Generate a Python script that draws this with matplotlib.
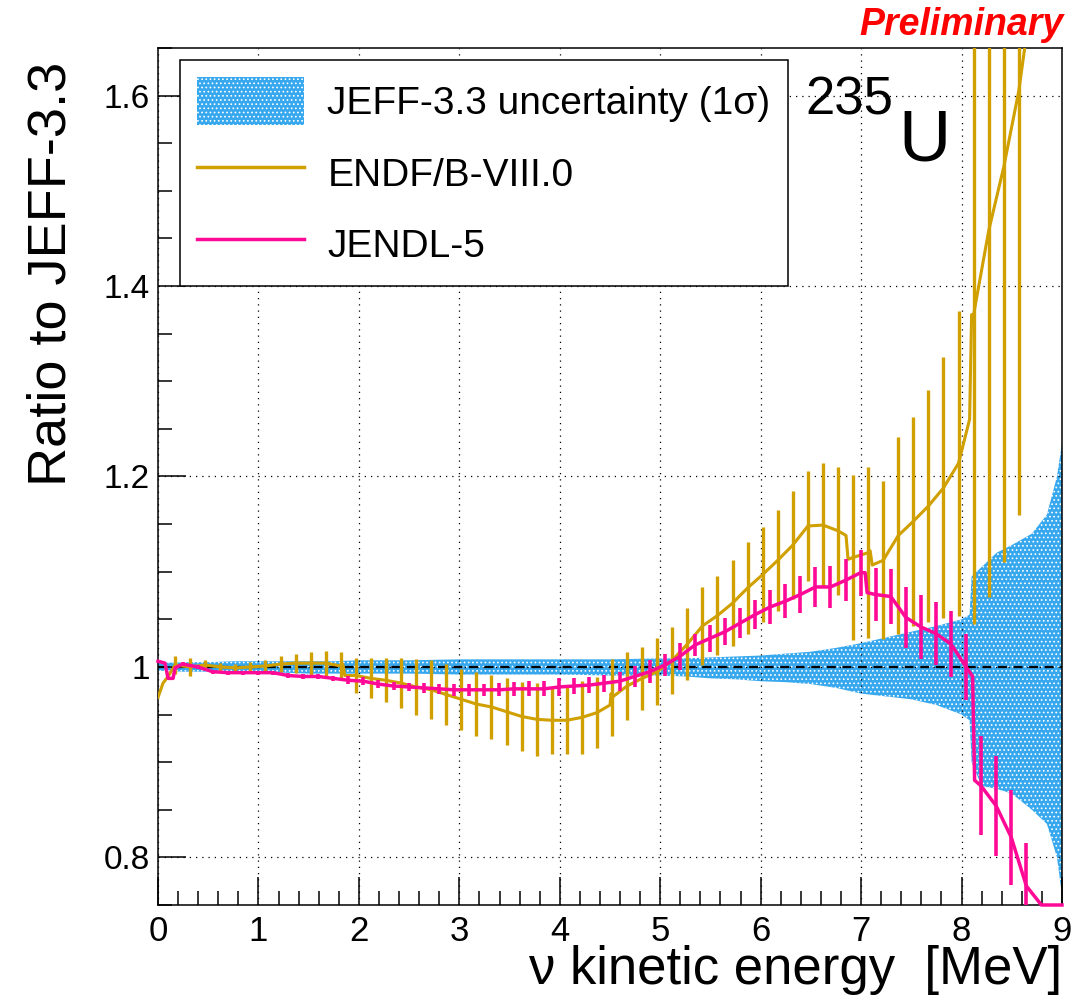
import numpy as np
import matplotlib as mpl
import matplotlib.pyplot as plt
from matplotlib.ticker import MultipleLocator, FuncFormatter
from matplotlib.patches import Patch
from matplotlib.lines import Line2D

### ROOT-like look ###
mpl.rc('font', family=['Liberation Sans', 'DejaVu Sans'])
mpl.rc('hatch', linewidth=0.7)

gold = '#D09F00'
pink = '#FF0A96'
blue = '#38A8EE'

# ENDF/B-VIII.0 / JEFF-3.3 ratio (error bars at bin centres)
endf_e = np.round(0.17 + 0.15 * np.arange(57), 3)
endf_val = [1.002, 1.000, 1.002, 1.000, 0.999, 1.000, 1.001, 1.003, 1.004, 1.004,
            1.004, 1.001, 0.991, 0.988, 0.986, 0.983, 0.979, 0.976, 0.971, 0.966,
            0.961, 0.958, 0.953, 0.948, 0.945, 0.944, 0.944, 0.947, 0.952, 0.968,
            0.980, 0.988, 0.995, 1.007, 1.024, 1.043, 1.054, 1.067, 1.083, 1.097,
            1.112, 1.128, 1.148, 1.149, 1.143, 1.115, 1.120, 1.112, 1.138, 1.153,
            1.169, 1.188, 1.214, 1.370, 1.458, 1.525, 1.605]
endf_err = [0.009, 0.009, 0.005, 0.004, 0.004, 0.005, 0.006, 0.008, 0.010, 0.012,
            0.013, 0.015, 0.018, 0.021, 0.023, 0.026, 0.029, 0.031, 0.032, 0.032,
            0.034, 0.034, 0.035, 0.036, 0.038, 0.035, 0.035, 0.038, 0.037, 0.040,
            0.036, 0.033, 0.035, 0.035, 0.038, 0.041, 0.041, 0.045, 0.048, 0.050,
            0.053, 0.057, 0.058, 0.065, 0.067, 0.087, 0.090, 0.083, 0.103, 0.110,
            0.122, 0.137, 0.160, 0.325, 0.385, 0.415, 0.445]
# extra points of the fine-binned line (edges and jumps)
endf_extra_e = [0.0, 0.05, 0.10, 1.84, 1.86, 4.50, 4.51, 6.85, 6.87, 7.09, 7.11, 8.08, 8.10, 8.72]
endf_extra_val = [0.968, 0.983, 0.990, 1.003, 0.991, 0.960, 0.972, 1.138, 1.113, 1.122,
                  1.107, 1.260, 1.370, 1.720]

# JENDL-5 / JEFF-3.3 ratio
jendl_e = np.round(0.245 + 0.15 * np.arange(59), 3)
jendl_val = [1.003, 1.000, 0.995, 0.994, 0.994, 0.994, 0.994, 0.991, 0.990, 0.990,
             0.988, 0.986, 0.985, 0.982, 0.980, 0.979, 0.978, 0.977, 0.976, 0.976,
             0.976, 0.976, 0.977, 0.977, 0.977, 0.979, 0.980, 0.981, 0.983, 0.985,
             0.990, 0.995, 1.002, 1.011, 1.023, 1.030, 1.037, 1.046, 1.055, 1.063,
             1.069, 1.076, 1.084, 1.084, 1.091, 1.099, 1.076, 1.074, 1.052, 1.042,
             1.035, 1.024, 1.000, 0.875, 0.854, 0.821, 0.770, 0.750, 0.750]
jendl_err = [0.002, 0.002, 0.002, 0.002, 0.002, 0.002, 0.002, 0.003, 0.003, 0.003,
             0.003, 0.004, 0.004, 0.004, 0.004, 0.004, 0.005, 0.005, 0.006, 0.006,
             0.006, 0.007, 0.007, 0.008, 0.008, 0.009, 0.008, 0.008, 0.009, 0.010,
             0.011, 0.012, 0.012, 0.014, 0.012, 0.014, 0.014, 0.016, 0.015, 0.018,
             0.018, 0.019, 0.021, 0.022, 0.022, 0.024, 0.028, 0.029, 0.032, 0.034,
             0.033, 0.035, 0.035, 0.052, 0.053, 0.050, 0.045, 0.0, 0.0]
jendl_extra_e = [0.0, 0.07, 0.10, 0.15, 0.17, 7.04, 7.06, 8.11, 8.13, 9.0]
jendl_extra_val = [1.006, 1.004, 0.988, 0.988, 0.999, 1.099, 1.078, 0.990, 0.881, 0.750]

# JEFF-3.3 1 sigma band
band_e = [0.0, 0.25, 0.5, 0.75, 1.0, 1.25, 1.5, 1.75, 2.0, 2.5, 3.0, 3.5, 4.0, 4.5,
          5.0, 5.25, 5.5, 5.75, 6.0, 6.25, 6.5, 6.75, 7.0, 7.25, 7.5, 7.75, 8.0,
          8.08, 8.1, 8.2, 8.35, 8.5, 8.7, 8.85, 8.95, 9.0]
band_hi = [1.004, 1.005, 1.005, 1.006, 1.006, 1.006, 1.006, 1.006, 1.007, 1.007,
           1.008, 1.008, 1.008, 1.008, 1.009, 1.009, 1.010, 1.011, 1.012, 1.014,
           1.016, 1.020, 1.025, 1.031, 1.037, 1.043, 1.050, 1.055, 1.095, 1.105,
           1.120, 1.128, 1.140, 1.160, 1.200, 1.235]
band_lo = [0.996, 0.995, 0.995, 0.994, 0.994, 0.994, 0.993, 0.993, 0.993, 0.993,
           0.992, 0.992, 0.992, 0.991, 0.991, 0.990, 0.988, 0.987, 0.985, 0.984,
           0.982, 0.978, 0.972, 0.969, 0.966, 0.960, 0.950, 0.944, 0.900, 0.875,
           0.872, 0.867, 0.850, 0.835, 0.800, 0.760]


def line_points(e, val, extra_e, extra_val):
    x = np.concatenate([e, extra_e])
    y = np.concatenate([val, extra_val])
    order = np.argsort(x, kind='stable')
    return x[order], y[order]


fig = plt.figure(figsize=(10.89, 10.08), dpi=100)
ax = fig.add_axes([158 / 1089, 103 / 1008, 904 / 1089, 857 / 1008])

ax.fill_between(band_e, band_lo, band_hi, facecolor=blue, edgecolor='white',
                hatch='....', linewidth=0, zorder=1)
ax.axhline(1.0, color='black', ls=(0, (4, 3)), lw=1.6, zorder=2)

x_endf, y_endf = line_points(endf_e, endf_val, endf_extra_e, endf_extra_val)
ax.plot(x_endf, y_endf, color=gold, lw=2.2, zorder=3)
ax.errorbar(endf_e, endf_val, yerr=endf_err, fmt='none', ecolor=gold,
            elinewidth=2.4, capsize=0, zorder=3)

x_jendl, y_jendl = line_points(jendl_e, jendl_val, jendl_extra_e, jendl_extra_val)
ax.plot(x_jendl, y_jendl, color=pink, lw=2.5, zorder=4, clip_on=False)
ax.errorbar(jendl_e, jendl_val, yerr=jendl_err, fmt='none', ecolor=pink,
            elinewidth=2.6, capsize=0, zorder=4)

ax.set_xlim(0, 9)
ax.set_ylim(0.75, 1.65)
ax.xaxis.set_major_locator(MultipleLocator(1))
ax.xaxis.set_minor_locator(MultipleLocator(0.2))
ax.yaxis.set_major_locator(MultipleLocator(0.2))
ax.yaxis.set_minor_locator(MultipleLocator(0.05))
ax.yaxis.set_major_formatter(FuncFormatter(lambda v, p: f'{v:g}'))
ax.grid(True, which='major', color='black', ls=(0, (1, 4)), lw=0.9)
ax.set_axisbelow(False)
ax.tick_params(which='both', direction='in', top=False, right=False, width=1.1)
ax.tick_params(which='major', length=20)
ax.tick_params(which='minor', length=10)
ax.tick_params(axis='y', labelsize=24, pad=6)
ax.tick_params(axis='x', labelsize=25, pad=7)
for s in ax.spines.values():
    s.set_linewidth(1.1)

ax.set_xlabel('ν kinetic energy  [MeV]', fontsize=38, loc='right')
ax.xaxis.set_label_coords(1.0, -0.047)
ax.set_ylabel('Ratio to JEFF-3.3', fontsize=39, loc='top')
ax.yaxis.set_label_coords(-0.090, 0.984)

handles = [Patch(facecolor=blue, edgecolor='white', hatch='....', linewidth=0),
           Line2D([], [], color=gold, lw=2.5),
           Line2D([], [], color=pink, lw=2.5)]
labels = ['JEFF-3.3 uncertainty (1σ)', 'ENDF/B-VIII.0', 'JENDL-5']
leg = ax.legend(handles, labels, loc='upper left', bbox_to_anchor=(0.024, 0.986),
                fontsize=28, frameon=True, fancybox=False, framealpha=1,
                edgecolor='black', handlelength=2.75, handleheight=1.5,
                handletextpad=0.6, labelspacing=0.62, borderpad=0.45,
                borderaxespad=0)
leg.get_frame().set_linewidth(1.1)
leg.set_zorder(10)

ax.text(0.716, 0.922, '235', transform=ax.transAxes, fontsize=38, va='baseline')
ax.text(0.8186, 0.869, 'U', transform=ax.transAxes, fontsize=52, va='baseline')
fig.text(1064 / 1089, 1 - 35 / 1008, 'Preliminary', color='red', fontsize=27,
         fontweight='bold', fontstyle='italic', ha='right', va='baseline')

fig.savefig('out.png', dpi=100)
